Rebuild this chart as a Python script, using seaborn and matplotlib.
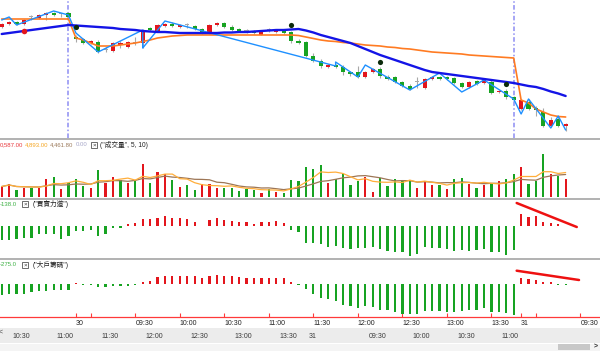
import numpy as np
import pandas as pd
import matplotlib
matplotlib.use("Agg")
import matplotlib.pyplot as plt
import seaborn as sns
from matplotlib.patches import Rectangle

sns.set_theme(style="white")
plt.rcParams["font.family"] = ["Liberation Sans", "Noto Sans CJK TC", "DejaVu Sans"]
plt.rcParams["axes.unicode_minus"] = False

# =========================
# data (5-min bars)
# =========================
open_ = [113, 116, 118, 116, 123, 122, 125, 127, 126, 127,
         103, 101, 97, 98, 90, 89, 95, 93, 97, 97,
         112, 109, 114, 116, 113, 115, 114, 111, 107, 115,
         117, 113, 111, 109, 109, 105, 110, 108, 110, 108,
         99, 98, 84, 79, 73, 75, 73, 68, 68, 63,
         68, 71, 63, 63, 58, 54, 58, 52, 61, 63,
         63, 62, 57, 53, 59, 57, 58, 48, 49, 43,
         31, 38, 32, 28, 14, 21, 14]
close = [116, 118, 116, 120, 123, 125, 127, 125, 126, 123,
         101, 97, 99, 88, 90, 97, 97, 98, 97, 110,
         110, 115, 116, 114, 115, 115, 111, 107, 115, 117,
         113, 110, 109, 109, 107, 108, 110, 110, 107, 99,
         97, 84, 79, 74, 75, 73, 68, 66, 63, 68,
         71, 64, 61, 58, 54, 51, 58, 61, 63, 61,
         61, 57, 53, 58, 56, 60, 47, 49, 43, 40,
         40, 31, 30, 14, 20, 14, 16]
high = [117, 119, 119, 121, 125, 126, 128, 128, 127, 128,
        105, 102, 100, 100, 93, 98, 99, 99, 103, 111,
        113, 116, 117, 118, 116, 117, 115, 112, 116, 118,
        118, 115, 112, 111, 110, 109, 112, 111, 111, 109,
        101, 99, 87, 81, 76, 76, 75, 69, 74, 69,
        72, 73, 65, 64, 59, 56, 63, 62, 64, 64,
        64, 63, 58, 59, 60, 61, 60, 50, 51, 44,
        41, 41, 34, 32, 23, 24, 17]
low = [112, 115, 115, 115, 120, 121, 120, 124, 123, 122,
       98, 96, 96, 87, 88, 88, 92, 92, 95, 92,
       109, 108, 113, 113, 112, 112, 110, 106, 106, 114,
       112, 109, 108, 107, 106, 105, 108, 107, 106, 97,
       96, 83, 78, 72, 72, 72, 65, 64, 62, 62,
       67, 62, 60, 57, 53, 50, 52, 51, 60, 60,
       60, 56, 52, 52, 55, 56, 46, 47, 41, 39,
       30, 30, 24, 13, 13, 13, 9]

ma_blue = [106, 107, 108, 109, 110, 111, 112, 113, 114, 115,
           114.5, 114, 113.5, 113, 112.5, 112, 111, 110.5, 110, 109,
           108.5, 108, 108, 107.5, 107, 107, 107, 107, 107, 107,
           107.5, 107.5, 108, 108, 108.5, 109, 109.5, 110, 110, 110.5,
           111, 109.5, 107.5, 105, 103, 101, 99, 97, 94, 91,
           88, 85, 82.5, 80, 77.5, 75, 72.5, 70, 68, 67,
           66, 65, 64, 63, 62, 61, 60, 59, 58, 57,
           55.5, 54, 53, 51, 48.5, 46.5, 44]
avg_orange = [121, 121, 121, 121, 121, 121, 121, 121, 121, 121,
              102, 100, 97, 94, 94, 94, 95, 96, 97, 98.5,
              100, 102, 103, 104, 104.5, 105, 105, 105, 105, 105,
              105, 105, 105, 105, 105, 105, 105, 105, 105, 105,
              104.5, 103, 101.5, 100, 99, 98.5, 97.5, 97, 96, 95,
              94.5, 94, 93, 92.5, 91.5, 91, 90, 89, 88, 87.5,
              87, 86.5, 86, 85, 84.5, 84, 83.5, 83, 82.5, 82,
              40, 37, 31, 28, 25, 23.5, 23]

zz_x = [0, 1, 2, 7, 9, 10, 13, 19, 19, 22, 45, 45, 48, 49, 55, 59, 62, 65, 69, 70, 71, 74, 75, 76]
zz_y = [120, 123, 115, 129, 125, 107, 88, 110, 92, 119, 74, 78, 63, 75, 50, 67, 48, 60, 41, 26, 41, 12, 24, 10]

sig_black_x = [10, 39, 51, 68]
sig_black_y = [113, 115, 78, 56]
sig_red_x = [3]
sig_red_y = [109]
day_breaks = [9, 69]

volume = [10, 13, 7, 9, 9, 9, 18, 20, 8, 14,
          18, 11, 9, 27, 14, 20, 17, 14, 17, 33,
          14, 25, 23, 17, 10, 12, 7, 13, 13, 9,
          9, 9, 6, 8, 7, 4, 8, 5, 4, 17,
          16, 30, 28, 32, 14, 18, 23, 12, 16, 20,
          5, 19, 11, 18, 17, 17, 9, 16, 12, 12,
          8, 18, 19, 13, 9, 12, 13, 16, 18, 23,
          30, 13, 16, 42, 23, 21, 18]
vol_up = [1, 1, 0, 1, 0, 1, 1, 0, 1, 0,
          0, 0, 1, 0, 1, 1, 0, 1, 0, 1,
          0, 1, 1, 0, 1, 0, 0, 1, 1, 1,
          0, 0, 0, 0, 0, 1, 0, 1, 0, 0,
          0, 0, 0, 0, 1, 0, 0, 0, 0, 1,
          1, 0, 0, 0, 0, 0, 1, 1, 1, 0,
          1, 0, 0, 1, 0, 1, 0, 1, 0, 0,
          1, 0, 0, 0, 1, 0, 1]

bs_power = [-13.7, -13.7, -12.7, -11.7, -12, -8.3, -8.3, -8.3, -12.7, -10.3,
            -5, -5.3, -4, -10, -8.3, -1.7, -2, 2, 2.7, 6.7,
            7, 8.3, 10.3, 8.3, 8.3, 7, 3.7, 0, 6, 8.3,
            6, 5.3, 3.7, 3.7, 1.7, 3.7, 4.3, 5, 3.3, -4.3,
            -6.3, -16.7, -16.7, -18.3, -20.7, -19.7, -22.3, -23.3, -21.7, -22.3,
            -20.7, -23.3, -25, -25.7, -26.3, -29.7, -28.3, -20.7, -22.3, -21.7,
            -23.3, -25, -24, -25, -24, -23, -26.3, -25.7, -29, -24,
            11.7, 9.3, 10, 3.7, 2.7, 2, 0]
big_chips = [-11, -10.3, -10, -10, -8.3, -7, -6.7, -6, -6, -6,
             1, -0.7, -0.7, -2.7, -2.7, -1.7, -2, -2, -1, 2.3,
             3, 7.3, 8.3, 8.3, 8.3, 8.3, 8.3, 6.3, 8.3, 9,
             8.3, 8.3, 7.3, 6.3, 5.7, 5.7, 5.7, 5.7, 5.7, 2.3,
             -0.7, -5.3, -10, -14.3, -15.3, -16.7, -21, -22, -23.7, -21.7,
             -22.7, -26, -26, -28.3, -30.3, -30.3, -30.3, -27, -27, -27,
             -27.7, -27.7, -27, -26, -26, -24.3, -28.3, -27.7, -29.3, -31,
             5.7, 5, 4, 2.3, 1.7, -0.7, -0.7]
bs_trend_x = [69.4, 77.5]
bs_trend_y = [23, -1]
big_trend_x = [69.4, 77.8]
big_trend_y = [13.3, 4]

tick_pos = [10, 12, 18, 24, 30, 36, 42, 48, 54, 60, 66, 70, 72, 78]
tick_lab = ["30", "", "09:30", "10:00", "10:30", "11:00", "11:30", "12:00",
            "12:30", "13:00", "13:30", "31", "", "09:30"]
nav_pos = [30, 36, 42, 48, 54, 60, 66, 70, 78, 84, 90, 96]
nav_lab = ["10:30", "11:00", "11:30", "12:00", "12:30", "13:00", "13:30",
           "31", "09:30", "10:00", "10:30", "11:00"]

vol_head = ["0,587.00", "4,893.00", "4,461.80", "0.00"]

# =========================
# styles
# =========================
RED = "#e3161d"
GREEN = "#17a322"
GRAY = "#a8a8a8"
W, H = 600, 351
XLIM = (-0.23, 80.63)
bars = np.arange(len(open_))

fig = plt.figure(figsize=(W / 100, H / 100), dpi=100)
fig.patch.set_facecolor("white")


def panel(y0, y1, xlim=XLIM):
    ax = fig.add_axes([0, 1 - y1 / H, 1, (y1 - y0) / H])
    ax.set_xlim(*xlim)
    ax.set_xticks([])
    ax.set_yticks([])
    for s in ax.spines.values():
        s.set_visible(False)
    ax.patch.set_alpha(0)
    return ax


# =========================
# 1. price panel
# =========================
ax = panel(0, 137.5)
o = np.array(open_, float)
c = np.array(close, float)
body_col = np.where(c > o, RED, np.where(c < o, GREEN, GRAY))
for d in day_breaks:
    ax.axvline(d, color="#8d8df2", lw=1.1, ls=(0, (3, 1.5, 1, 1.5)), zorder=0.5)
ax.vlines(bars, low, high, color=GRAY, lw=0.8, zorder=1)
ax.bar(bars, np.maximum(np.abs(c - o), 0.9), bottom=np.minimum(o, c),
       width=0.56, color=body_col, lw=0, zorder=2)
sns.lineplot(x=bars, y=avg_orange, ax=ax, color="#ff7b22", lw=1.2, zorder=3)
sns.lineplot(x=zz_x, y=zz_y, ax=ax, estimator=None, sort=False,
             color="#1e90ff", lw=1.0, zorder=4)
sns.lineplot(x=bars, y=ma_blue, ax=ax, color="#1414e6", lw=1.7, zorder=5)
ax.scatter(sig_black_x, sig_black_y, s=14, color="#0b2a0b", lw=0, zorder=6)
ax.scatter(sig_red_x, sig_red_y, s=16, color=RED, lw=0, zorder=6)
ax.set_xlim(*XLIM)
ax.set_ylim(2.5, 140)

# =========================
# 2. volume panel
# =========================
axv = panel(139.5, 197.5)
vcol = np.where(np.array(vol_up) == 1, RED, GREEN)
axv.bar(bars, volume, width=0.3, color=vcol, lw=0)
vs = pd.Series(volume, dtype=float)
sns.lineplot(x=bars, y=vs.rolling(10, min_periods=1).mean(), ax=axv, color="#9d7656", lw=0.9)
sns.lineplot(x=bars, y=vs.rolling(5, min_periods=1).mean(), ax=axv, color="#ffae3b", lw=0.9)
axv.set_xlim(*XLIM)
axv.set_ylim(-1, 57)

# =========================
# 3. buy / sell power
# =========================
axb = panel(200, 258)
bs = np.array(bs_power)
axb.bar(bars, bs, width=0.3, color=np.where(bs > 0, RED, GREEN), lw=0)
axb.plot(bs_trend_x, bs_trend_y, color="#ee1111", lw=1.8)
axb.set_xlim(*XLIM)
axb.set_ylim(-32, 26)

# =========================
# 4. big players
# =========================
axg = panel(260, 317)
bg = np.array(big_chips)
axg.bar(bars, bg, width=0.3, color=np.where(bg > 0, RED, GREEN), lw=0)
axg.plot(big_trend_x, big_trend_y, color="#ee1111", lw=1.8)
axg.set_xlim(*XLIM)
axg.set_ylim(-33, 24)
axg.spines["bottom"].set_visible(True)
axg.spines["bottom"].set_color("#ff3a3a")
axg.spines["bottom"].set_linewidth(0.9)
axg.set_xticks(tick_pos)
axg.set_xticklabels(tick_lab, fontsize=5, color="#222222", ha="left")
axg.tick_params(axis="x", direction="in", length=3, width=0.8,
                color="#ff3a3a", pad=2.5, bottom=True)

# =========================
# 5. navigator strip
# =========================
axn = fig.add_axes([0, 1 - 343 / H, 1, 15 / H])
axn.set_facecolor("#ececec")
axn.set_xlim(XLIM[0] + 28.7, XLIM[1] + 28.7)
axn.set_xticks([])
axn.set_yticks([])
for s in axn.spines.values():
    s.set_visible(False)
for p, lab in zip(nav_pos, nav_lab):
    axn.text(p + 0.1, 0.45, lab, transform=axn.get_xaxis_transform(),
             ha="left", va="center", fontsize=5, color="#3a3a3a")

# =========================
# 6. frame, headers, scrollbar (pixel overlay)
# =========================
ov = fig.add_axes([0, 0, 1, 1])
ov.set_xlim(0, W)
ov.set_ylim(H, 0)
ov.axis("off")

for y in [138.5, 198.8, 259.2]:
    ov.plot([0, W], [y, y], color="#ababab", lw=1.3)


def xbox(x, y):
    ov.add_patch(Rectangle((x - 3, y - 3), 6, 6, fc="white", ec="#555555", lw=0.6))
    ov.text(x, y + 0.3, "×", ha="center", va="center", fontsize=4.5, color="#333333")


hc = ["#e8383d", "#f5a623", "#9c7a5b", "#a6a6c8"]
hx = [0, 25, 50, 76]
for t, col, x in zip(vol_head, hc, hx):
    ov.text(x, 145, t, ha="left", va="center", fontsize=4.3, color=col)
xbox(94, 145)
ov.text(100, 145, '("成交量", 5, 10)', ha="left", va="center", fontsize=4.8, color="#222222")

ov.text(0, 204, "-138.0", ha="left", va="center", fontsize=4.3, color="#3cb043")
xbox(25, 204)
ov.text(33, 204, '("買賣力道")', ha="left", va="center", fontsize=4.8, color="#222222")

ov.text(0, 265, "-275.0", ha="left", va="center", fontsize=4.3, color="#3cb043")
xbox(25, 265)
ov.text(33, 265, '("大戶籌碼")', ha="left", va="center", fontsize=4.8, color="#222222")

ov.text(-1, 332, "<", ha="left", va="center", fontsize=5, color="#444444")
ov.add_patch(Rectangle((0, 343.5), W, 7.5, fc="#f4f4f4", ec="none"))
ov.add_patch(Rectangle((558, 343.5), 32, 6, fc="#c8c8c8", ec="none"))
ov.text(596, 346.5, ">", ha="center", va="center", fontsize=5, color="#333333", weight="bold")

fig.savefig("out.png", dpi=100, facecolor="white")
